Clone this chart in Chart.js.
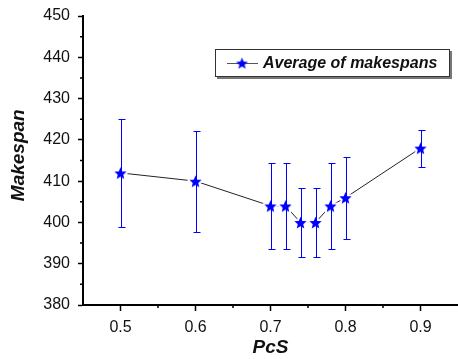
<!DOCTYPE html>
<html>
<head>
<meta charset="utf-8">
<script src="https://cdn.jsdelivr.net/npm/chart.js@4"></script>
<style>
  body { margin: 0; background: #fff; }
  #wrap { width: 458px; height: 359px; }
</style>
</head>
<body>
<div id="wrap"><canvas id="myChart"></canvas></div>
<script>
// data
const pcs = [0.5, 0.6, 0.7, 0.72, 0.74, 0.76, 0.78, 0.8, 0.9];
const avgMakespan = [412, 410, 404, 404, 400, 400, 404, 406, 418];
const errors = [13, 12.2, 10.4, 10.4, 8.4, 8.4, 10.4, 9.9, 4.5];

const xTicks = [0.5, 0.6, 0.7, 0.8, 0.9];
const xMinorTicks = [0.55, 0.65, 0.75, 0.85];
const yTicks = [380, 390, 400, 410, 420, 430, 440, 450];
const yMinorTicks = [385, 395, 405, 415, 425, 435, 445];
const seriesName = "Average of makespans";

const FONT = "'Liberation Sans', Arial, sans-serif";

function makeStar(r, color, halo) {
  const size = Math.ceil(r * 2 + halo * 2 + 2);
  const c = document.createElement("canvas");
  c.width = size; c.height = size;
  const ctx = c.getContext("2d");
  ctx.beginPath();
  for (let i = 0; i < 10; i++) {
    const rad = i % 2 === 0 ? r : r * 0.44;
    const a = -Math.PI / 2 + i * Math.PI / 5;
    ctx.lineTo(size / 2 + rad * Math.cos(a), size / 2 + 0.8 + rad * Math.sin(a));
  }
  ctx.closePath();
  if (halo > 0) {
    ctx.lineJoin = "round";
    ctx.lineWidth = halo * 2;
    ctx.strokeStyle = "#fff";
    ctx.stroke();
  }
  ctx.fillStyle = color;
  ctx.fill();
  return c;
}

const starImg = makeStar(6.5, "#0000ff", 2);
const legendStar = makeStar(6.2, "#0000ff", 0);

const errorBars = {
  id: "errorBars",
  afterDatasetsDraw(chart) {
    const { ctx, scales: { x, y } } = chart;
    ctx.save();
    ctx.strokeStyle = "#0000ff";
    ctx.lineWidth = 1;
    pcs.forEach((v, i) => {
      const px = Math.round(x.getPixelForValue(v)) + 0.5;
      const top = Math.round(y.getPixelForValue(avgMakespan[i] + errors[i])) + 0.5;
      const bot = Math.round(y.getPixelForValue(avgMakespan[i] - errors[i])) + 0.5;
      ctx.beginPath();
      ctx.moveTo(px, top); ctx.lineTo(px, bot);
      ctx.moveTo(px - 3, top); ctx.lineTo(px + 4, top);
      ctx.moveTo(px - 3, bot); ctx.lineTo(px + 4, bot);
      ctx.stroke();
    });
    ctx.restore();
  }
};

const minorTicks = {
  id: "minorTicks",
  afterDraw(chart) {
    const { ctx, chartArea, scales: { x, y } } = chart;
    ctx.save();
    ctx.strokeStyle = "#000";
    ctx.lineWidth = 1.5;
    ctx.beginPath();
    xMinorTicks.forEach(v => {
      const px = x.getPixelForValue(v);
      ctx.moveTo(px, chartArea.bottom);
      ctx.lineTo(px, chartArea.bottom + 3);
    });
    yMinorTicks.forEach(v => {
      const py = y.getPixelForValue(v);
      ctx.moveTo(chartArea.left, py);
      ctx.lineTo(chartArea.left - 3, py);
    });
    ctx.stroke();
    ctx.restore();
  }
};

const boxLegend = {
  id: "boxLegend",
  afterDraw(chart) {
    const { ctx, chartArea } = chart;
    const w = 235, h = 28;
    const bx = chartArea.right - 8 - w;
    const by = chartArea.top + 33;
    ctx.save();
    // shadow
    ctx.fillStyle = "#777";
    ctx.fillRect(bx + 2, by + 2, w, h);
    ctx.fillStyle = "#fff";
    ctx.fillRect(bx, by, w, h);
    ctx.strokeStyle = "#333";
    ctx.lineWidth = 1;
    ctx.strokeRect(bx + 0.5, by + 0.5, w - 1, h - 1);
    const cy = by + h / 2;
    ctx.strokeStyle = "#555";
    ctx.beginPath();
    ctx.moveTo(bx + 12, cy + 0.5);
    ctx.lineTo(bx + 43, cy + 0.5);
    ctx.stroke();
    ctx.drawImage(legendStar, bx + 27 - legendStar.width / 2, cy - legendStar.height / 2);
    ctx.fillStyle = "#111";
    ctx.font = "italic bold 16px " + FONT;
    ctx.textBaseline = "middle";
    ctx.fillText(seriesName, bx + 48, cy + 1);
    ctx.restore();
  }
};

const myChart = document.getElementById("myChart");

new Chart(myChart, {
  type: "line",
  data: {
    datasets: [{
      label: seriesName,
      data: pcs.map((v, i) => ({ x: v, y: avgMakespan[i] })),
      borderColor: "#222",
      borderWidth: 1,
      pointStyle: starImg,
      pointRadius: 6,
      tension: 0
    }]
  },
  options: {
    responsive: true,
    maintainAspectRatio: false,
    animation: false,
    layout: { autoPadding: false, padding: { top: 16, right: 0, left: 0, bottom: 0 } },
    plugins: {
      legend: { display: false },
      tooltip: { enabled: false }
    },
    scales: {
      x: {
        type: "linear",
        min: 0.45,
        max: 0.95,
        afterBuildTicks: (scale) => { scale.ticks = xTicks.map(v => ({ value: v })); },
        afterFit: (scale) => {
          scale.height = 54;
          scale.paddingLeft = 0;
          scale.paddingRight = 0;
        },
        border: { color: "#000", width: 2 },
        grid: { drawOnChartArea: false, drawTicks: true, tickLength: 6, tickColor: "#000", tickWidth: 1.5 },
        ticks: {
          padding: 7,
          color: "#111",
          font: { family: FONT, size: 16 },
          callback: (v) => Number(v).toFixed(1)
        },
        title: {
          display: true,
          text: "PcS",
          color: "#111",
          padding: { top: 2, bottom: 0 },
          font: { family: FONT, size: 19, weight: "bold", style: "italic" }
        }
      },
      y: {
        min: 380,
        max: 450,
        afterBuildTicks: (scale) => { scale.ticks = yTicks.map(v => ({ value: v })); },
        afterFit: (scale) => {
          scale.width = 83;
          scale.paddingTop = 0;
          scale.paddingBottom = 0;
        },
        border: { color: "#000", width: 2 },
        grid: { drawOnChartArea: false, drawTicks: true, tickLength: 5, tickColor: "#000", tickWidth: 1.5 },
        ticks: {
          padding: 8,
          color: "#111",
          font: { family: FONT, size: 16 }
        },
        title: {
          display: true,
          // leading spaces nudge the rotated title up a little, like the original
          text: "  Makespan",
          color: "#111",
          padding: { top: 7, bottom: 0 },
          font: { family: FONT, size: 19, weight: "bold", style: "italic" }
        }
      }
    }
  },
  plugins: [errorBars, minorTicks, boxLegend]
});
</script>
</body>
</html>
